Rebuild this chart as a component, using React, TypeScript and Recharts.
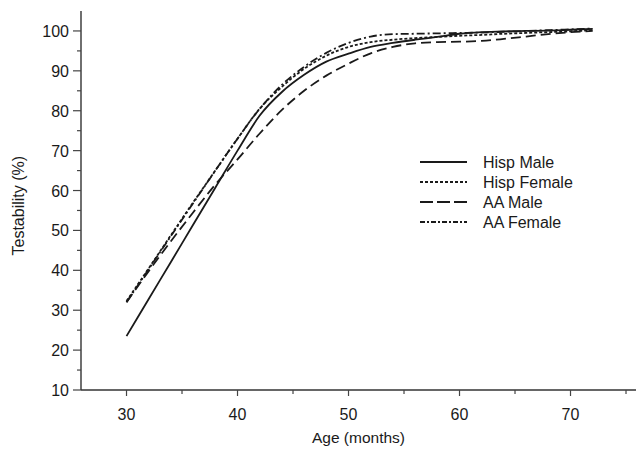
import React from "react";
import { LineChart, Line, XAxis, YAxis, Legend } from "recharts";

const ages = [30, 32, 34, 36, 38, 40, 42, 44, 46, 48, 50, 52, 54, 56, 58, 60, 62, 64, 66, 68, 70, 72];
const hispMale = [23.5, 32.8, 42.1, 51.4, 60.7, 70, 78.8, 84.7, 89, 92.3, 94.3, 96, 97, 97.8, 98.5, 99.3, 99.7, 99.9, 100, 100.1, 100.3, 100.5];
const hispFemale = [32.3, 40.5, 48.8, 57, 65, 73, 80.5, 86, 90.5, 93.8, 96, 97.2, 97.8, 98.2, 98.5, 98.8, 99, 99.3, 99.5, 99.7, 99.9, 100.2];
const aaMale = [32, 39.8, 47.3, 54.5, 61.5, 67.8, 74.3, 80.2, 85, 88.8, 91.8, 94.4, 96, 96.9, 97.2, 97.3, 97.5, 98, 98.6, 99.2, 99.7, 100];
const aaFemale = [32, 40.3, 48.6, 56.8, 65, 73, 80.5, 86.5, 91, 94.5, 97, 98.6, 99.2, 99.3, 99.4, 99.5, 99.6, 99.8, 100, 100.2, 100.4, 100.6];

const xTicks = [30, 35, 40, 45, 50, 55, 60, 65, 70, 75];
const yTicks = [10, 15, 20, 25, 30, 35, 40, 45, 50, 55, 60, 65, 70, 75, 80, 85, 90, 95, 100];

const series = [
  { key: "hispMale", name: "Hisp Male", dash: undefined, legendDash: undefined },
  { key: "hispFemale", name: "Hisp Female", dash: "3 2", legendDash: "3 2" },
  { key: "aaMale", name: "AA Male", dash: "10 5", legendDash: "13 4" },
  { key: "aaFemale", name: "AA Female", dash: "8 3 2 3", legendDash: "5 2 2 2" },
];

const data = ages.map((age, i) => ({
  age,
  hispMale: hispMale[i],
  hispFemale: hispFemale[i],
  aaMale: aaMale[i],
  aaFemale: aaFemale[i],
}));

const FONT = "'Liberation Sans', Arial, sans-serif";
const INK = "#1a1a1a";

const XTick = (props: any) => {
  const { x, y, payload } = props;
  const major = payload.value % 10 === 0;
  return (
    <g>
      <line x1={x} y1={y} x2={x} y2={y + (major ? 6 : 4)} stroke="#444" strokeWidth={1.2} />
      {major && (
        <text x={x} y={y + 30} textAnchor="middle" fontSize={16} fontFamily={FONT} fill={INK}>
          {payload.value}
        </text>
      )}
    </g>
  );
};

const YTick = (props: any) => {
  const { x, y, payload } = props;
  const major = payload.value % 10 === 0;
  return (
    <g>
      <line x1={x} y1={y} x2={x - (major ? 8 : 4)} y2={y} stroke="#444" strokeWidth={1.2} />
      {major && (
        <text x={x - 12} y={y + 6} textAnchor="end" fontSize={16} fontFamily={FONT} fill={INK}>
          {payload.value}
        </text>
      )}
    </g>
  );
};

const LegendBox = () => (
  <svg width={180} height={90}>
    {series.map((s, i) => (
      <g key={s.key}>
        <line
          x1={2}
          x2={49}
          y1={12 + i * 20}
          y2={12 + i * 20}
          stroke={INK}
          strokeWidth={2}
          strokeDasharray={s.legendDash}
        />
        <text x={65} y={18 + i * 20} fontSize={16} fontFamily={FONT} fill={INK}>
          {s.name}
        </text>
      </g>
    ))}
  </svg>
);

export default function App() {
  return (
    <div style={{ position: "absolute", left: 0, top: 0, background: "#fff" }}>
      <LineChart width={636} height={450} data={data} margin={{ top: 11, right: 0, left: 0, bottom: 0 }}>
        <XAxis
          xAxisId="top"
          orientation="top"
          dataKey="age"
          type="number"
          domain={[25.9, 75.9]}
          allowDataOverflow
          height={0}
          tick={false}
          tickLine={false}
          axisLine={{ stroke: "#333", strokeWidth: 1.4 }}
        />
        <XAxis
          dataKey="age"
          type="number"
          domain={[25.9, 75.9]}
          allowDataOverflow
          ticks={xTicks}
          interval={0}
          height={60}
          tickSize={0}
          tickMargin={0}
          tickLine={false}
          tick={<XTick />}
          axisLine={{ stroke: "#333", strokeWidth: 1.4 }}
          label={{ value: "Age (months)", position: "insideBottom", offset: 7, fontSize: 15.5, fontFamily: FONT, fill: INK }}
        />
        <YAxis
          type="number"
          domain={[10, 105]}
          allowDataOverflow
          ticks={yTicks}
          interval={0}
          width={81}
          tickSize={0}
          tickMargin={0}
          tickLine={false}
          tick={<YTick />}
          axisLine={{ stroke: "#333", strokeWidth: 1.4 }}
          label={{ value: "Testability (%)", angle: -90, position: "insideLeft", offset: 18, dy: 55, fontSize: 16, fontFamily: FONT, fill: INK }}
        />
        <Legend
          layout="vertical"
          verticalAlign="middle"
          align="center"
          content={<LegendBox />}
          wrapperStyle={{ left: 418, top: 150, width: 180 }}
        />
        {series.map((s) => (
          <Line
            key={s.key}
            xAxisId={0}
            dataKey={s.key}
            name={s.name}
            type="monotone"
            stroke={INK}
            strokeWidth={1.8}
            strokeDasharray={s.dash}
            dot={false}
            isAnimationActive={false}
          />
        ))}
      </LineChart>
    </div>
  );
}
